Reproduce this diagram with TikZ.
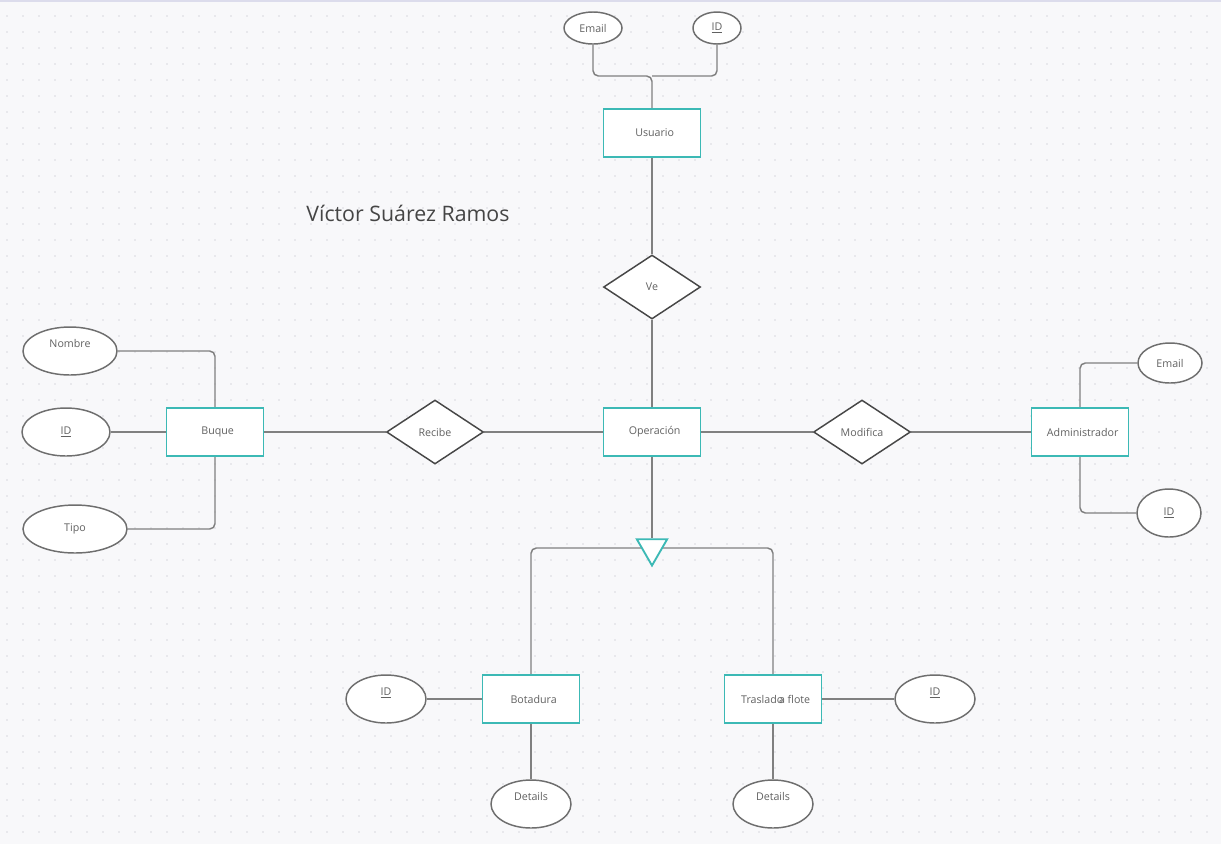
\documentclass[tikz,border=0pt]{standalone}
\usepackage{fontspec}
\setmainfont{Open Sans}
\usetikzlibrary{shapes.geometric}
\definecolor{bgc}{HTML}{F8F8FA}
\definecolor{dotc}{HTML}{D9D9DF}
\definecolor{topc}{HTML}{DCDCEC}
\definecolor{entc}{HTML}{3CB9B5}
\definecolor{linec}{HTML}{808080}
\definecolor{ellc}{HTML}{6E6E6E}
\definecolor{diac}{HTML}{474747}
\definecolor{txtc}{HTML}{616161}
\definecolor{titc}{HTML}{454545}
\newcommand\hitext[1]{\raisebox{3pt}[0pt][0pt]{#1}}
\pgfdeclarelayer{back}
\pgfdeclarelayer{wires}
\pgfsetlayers{back,wires,main}
\tikzset{
  sz/.style 2 args={minimum width=#1*0.75pt, minimum height=#2*0.75pt},
  lbl/.style={font=\fontsize{8}{9.5}\selectfont, text=txtc},
  entity/.style={lbl, draw=entc, line width=1.4pt, fill=white, inner sep=0pt, sz={97}{48}, execute at begin node={\hspace*{4pt}}},
  rel/.style={lbl, diamond, draw=diac, line width=1.1pt, fill=white, inner sep=0pt, sz={97}{64}},
  attr/.style={lbl, ellipse, draw=ellc, line width=1.1pt, fill=white, inner sep=0pt},
  isa/.style={regular polygon, regular polygon sides=3, shape border rotate=180, draw=entc, line width=1.4pt, fill=white, inner sep=0pt, minimum size=35*0.75pt},
  conn/.style={draw=linec, line width=1.1pt, rounded corners=4pt},
}
\begin{document}
\begin{tikzpicture}[x=0.75pt,y=-0.75pt]
\useasboundingbox (0,0) rectangle (1221,844);
\begin{pgfonlayer}{back}
  \fill[bgc] (0,0) rectangle (1221,844);
  \foreach \i in {0,...,76}{
    \foreach \j in {1,...,52}{
      \fill[dotc] (7+16*\i,16*\j) circle[radius=0.7pt];
    }
  }
  \fill[topc] (0,0) rectangle (1221,1.5);
\end{pgfonlayer}

% Title
\node[font=\fontsize{16}{19}\selectfont, text=titc] (title) at (408,213) {Víctor Suárez Ramos};

% Usuario
\node[attr, sz={58}{32}] (uemail) at (593,28) {Email};
\node[attr, sz={48}{32}] (uid) at (717,28) {\underline{ID}};
\coordinate (ujoin) at (652,76);
\node[entity] (usu) at (652,133) {Usuario};
\node[rel] (ve) at (652,287) {Ve};

% Centre row
\node[entity] (ope) at (652,432) {Operación};
\node[rel] (rec) at (435,432) {Recibe};
\node[rel] (mod) at (862,432) {Modifica};
\node[entity] (bq) at (215,432) {Buque};
\node[entity] (adm) at (1080,432) {Administrador};

% Buque attributes
\node[attr, sz={94}{48}] (nombre) at (70,351) {\hitext{Nombre}};
\node[attr, sz={88}{48}] (bid) at (66,432) {\underline{ID}};
\node[attr, sz={104}{48}] (tipo) at (75,529) {Tipo};

% Administrador attributes
\node[attr, sz={64}{40}] (aemail) at (1170,363) {Email};
\node[attr, sz={64}{48}] (aid) at (1169,513) {\underline{ID}};

% Specialisation
\node[isa] (tri) at (652,548) {};
\node[entity] (bot) at (531,699) {Botadura};
\node[entity] (tra) at (773,699) {Traslado\hspace{-0.66em} a flote};
\node[attr, sz={80}{48}] (botid) at (386,699) {\hitext{\underline{ID}}};
\node[attr, sz={80}{48}] (botdet) at (531,804) {\hitext{Details}};
\node[attr, sz={80}{48}] (traid) at (935,699) {\hitext{\underline{ID}}};
\node[attr, sz={80}{48}] (tradet) at (773,804) {\hitext{Details}};

\begin{pgfonlayer}{wires}
  \draw[conn] (uemail.south) |- (ujoin) -- (usu.north);
  \draw[conn] (uid.south) |- (ujoin);
  \draw[conn] (usu.south) -- (ve.north);
  \draw[conn] (ve.south) -- (ope.north);
  \draw[conn] (bq.east) -- (rec.west);
  \draw[conn] (rec.east) -- (ope.west);
  \draw[conn] (ope.east) -- (mod.west);
  \draw[conn] (mod.east) -- (adm.west);
  \draw[conn] (adm.north) |- (aemail.west);
  \draw[conn] (adm.south) |- (aid.west);
  \draw[conn] (nombre.east) -| (bq.north);
  \draw[conn] (bid.east) -- (bq.west);
  \draw[conn] (tipo.east) -| (bq.south);
  \draw[conn] (ope.south) -- (tri.north);
  \draw[conn] (bot.north) |- (tri.center) -| (tra.north);
  \draw[conn] (botid.east) -- (bot.west);
  \draw[conn] (bot.south) -- (botdet.north);
  \draw[conn] (tra.east) -- (traid.west);
  \draw[conn] (tra.south) -- (tradet.north);
\end{pgfonlayer}
\end{tikzpicture}
\end{document}
